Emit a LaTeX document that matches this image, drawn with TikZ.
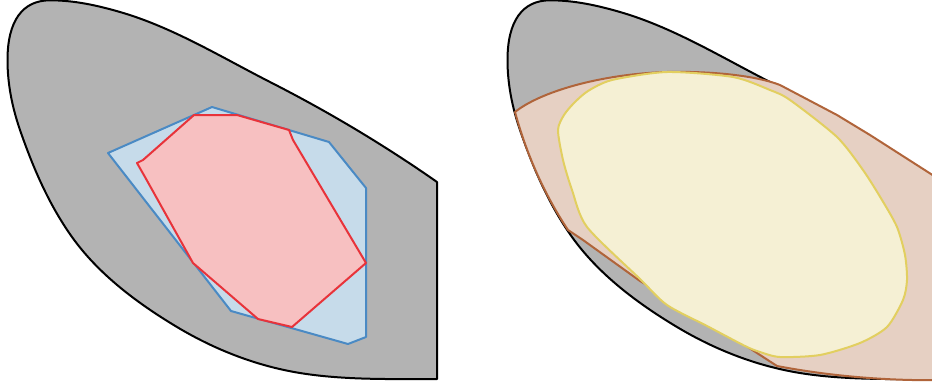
\documentclass[tikz,border=0pt]{standalone}
\definecolor{shapegray}{RGB}{179,179,179}
\definecolor{bluefill}{RGB}{198,219,234}
\definecolor{bluedraw}{RGB}{74,138,196}
\definecolor{redfill}{RGB}{247,192,193}
\definecolor{reddraw}{RGB}{232,51,58}
\definecolor{brownfill}{RGB}{230,208,195}
\definecolor{browndraw}{RGB}{176,100,58}
\definecolor{yellowfill}{RGB}{245,240,212}
\definecolor{yellowdraw}{RGB}{226,207,96}
\tikzset{
  grayregion/.style={fill=shapegray, draw=black, line width=2pt, line join=round},
  blueregion/.style={fill=bluefill, draw=bluedraw, line width=2pt, line join=round},
  redregion/.style={fill=redfill, draw=reddraw, line width=2pt, line join=round},
  brownregion/.style={fill=brownfill, draw=browndraw, line width=2pt, line join=round},
  yellowregion/.style={fill=yellowfill, draw=yellowdraw, line width=2pt, line join=round},
}
\newcommand{\grayoutline}{(437,182) -- (437,379)
  .. controls (392,379) and (344.4,380.2) .. (300,373)
  .. controls (256.6,366) and (214.7,349.6) .. (177,327)
  .. controls (137.6,303.4) and (98.7,274.4) .. (72,237)
  .. controls (48.8,204.4) and (33.1,167.8) .. (20,130)
  .. controls (12.2,107.3) and (7.5,84) .. (7.5,60)
  .. controls (7.5,21) and (22.4,0.3) .. (50,0.3)
  .. controls (74,0.3) and (97,5.3) .. (120,12)
  .. controls (172.8,27.3) and (221,57) .. (270,82)
  .. controls (327.9,111.5) and (383.8,144.8) .. (437,182) -- cycle}
\begin{document}
\begin{tikzpicture}[x=1pt,y=-1pt]
\useasboundingbox (0,0) rectangle (932,389);
\clip (0,0) rectangle (932,389);
% ---------- left panel ----------
\draw[grayregion] \grayoutline;
\draw[blueregion] (108,153) -- (212,107) -- (329,142) -- (366,188) -- (366,337) -- (348,344) -- (231,311) -- cycle;
\draw[redregion] (194,115) -- (237,115) -- (289,130) -- (293,140) -- (366,263) -- (292,327) -- (258,319) -- (193,263) -- (145,177) -- (137,163) -- (143,160) -- cycle;
% ---------- right panel ----------
\begin{scope}[xshift=500pt]
\draw[grayregion] \grayoutline;
\end{scope}
\draw[brownregion] (515,112) .. controls (540,92) and (600,74) .. (667,72)
  .. controls (715,71) and (757,76) .. (780,85)
  -- (837,115) -- (870,135) -- (945,183) -- (945,380)
  .. controls (900,381) and (840,378) .. (777,366)
  -- (700,316) -- (640,281) -- (583,240) -- (568,230)
  .. controls (548,200) and (528,160) .. (515,112) -- cycle;
\draw[yellowregion] plot[smooth cycle, tension=0.45] coordinates {(558,130) (564,115) (574,103) (588,91) (612,80) (667,72) (733,77) (770,90) (790,100) (837,137) (863,170) (882,200) (897,227) (905,255) (907,280) (903,300) (887,327) (860,343) (820,355) (780,357) (760,352) (745,346) (707,326) (667,305) (640,279) (587,227) (572,190) (563,160)};
\end{tikzpicture}
\end{document}
